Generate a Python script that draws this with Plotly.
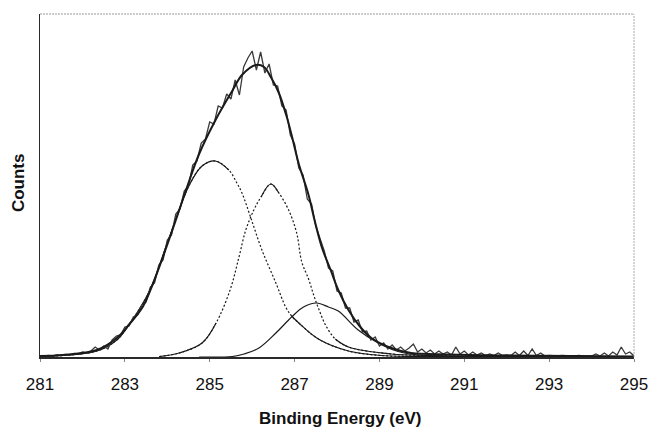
import plotly.graph_objects as go

# ---------------- data ----------------
# raw spectrum (binding energy grid, eV) and counts (arbitrary units)
raw_energy = [round(281.0 + 0.1 * i, 1) for i in range(141)]
raw_counts = [
    0.5, 1, 1.5, 1, 2, 1.5, 2.5, 2, 3.5, 3,
    5, 4, 6, 10, 7, 11, 8, 17, 21, 22,
    30, 31, 40, 42, 52, 55, 70, 74, 92, 97,
    117, 122, 143, 148, 166, 171, 192, 196, 214, 218,
    235, 233, 251, 249, 263, 258, 277, 262, 290, 299,
    306, 287, 305, 284, 293, 272, 271, 251, 247, 222,
    213, 189, 182, 158, 153, 131, 119, 106, 89, 86,
    66, 64, 49, 49, 35, 37, 25, 26, 17, 20,
    11, 14, 8, 12, 7, 10, 6, 9, 13, 5,
    8, 4, 7, 3, 6, 3, 5, 2, 10, 3,
    6, 2, 5, 2, 4, 1.5, 3, 1.5, 4, 1.5,
    2, 1.5, 5, 1.5, 6, 1.5, 8, 1.5, 4, 1,
    1.5, 1, 1, 1.5, 1, 1, 1, 1.5, 1, 1,
    1, 3, 1, 4, 1, 5, 2, 10, 3, 5,
    1,
]

# fitted envelope
fit_energy = [281.00, 281.54, 282.34, 282.81, 283.11, 283.42, 283.65, 283.93,
              284.21, 284.45, 284.75, 285.15, 285.53, 285.76, 286.09, 286.28,
              286.44, 286.63, 286.81, 286.93, 287.10, 287.33, 287.47, 287.64,
              287.85, 288.03, 288.27, 288.55, 288.81, 289.28, 289.75, 290.61,
              291.79, 295.00]
fit_counts = [1, 2, 7, 19, 33, 50, 72, 104,
              138, 168, 203, 238, 266, 282, 292, 290,
              280, 264, 241, 222, 193, 162, 137, 110,
              87, 67, 47, 30, 19, 9, 4, 2.5,
              1.5, 0.5]

# component 1 (~285.1 eV)
c1_energy = [281.00, 282.34, 282.81, 283.11, 283.58, 284.05, 284.52, 284.82,
             285.13, 285.45, 285.64, 285.76, 285.97, 286.23, 286.56, 286.79,
             286.93, 287.10, 287.56, 288.27, 289.04, 290.61, 295.00]
c1_counts = [0.5, 6, 17, 33, 66, 120, 172, 191,
             196, 187, 174, 164, 139, 107, 74, 50,
             41, 34, 18, 6, 1.5, 0.4, 0]

# component 2 (~286.4 eV)
c2_energy = [283.81, 284.28, 284.82, 285.15, 285.48, 285.69, 285.85, 286.04,
             286.21, 286.44, 286.63, 286.86, 287.05, 287.17, 287.33, 287.45,
             287.57, 287.73, 287.96, 288.27, 289.28, 290.14, 291.79, 295.00]
c2_counts = [0.5, 4, 14, 34, 67, 100, 127, 147,
             160, 173, 164, 147, 124, 95, 78, 62,
             48, 32, 18, 10, 3, 1.5, 0.3, 0]

# component 3 (~287.5 eV)
c3_energy = [284.75, 285.53, 285.81, 286.16, 286.56, 286.93, 287.21, 287.52,
             287.80, 288.03, 288.50, 288.97, 289.44, 289.91, 290.61, 291.79,
             295.00]
c3_counts = [0, 0.5, 3, 9, 24, 40, 50, 54,
             50, 46, 27, 14, 5.5, 2, 1, 0.3, 0]

x_ticks = [281, 283, 285, 287, 289, 291, 293, 295]

# ---------------- figure ----------------
INK = "#1a1a1a"
fig = go.Figure()


def masked(vals, keep):
    return [v if k else None for v, k in zip(vals, keep)]


def add_component(xs, ys, solid_top, solid_left, solid_right):
    peak = ys.index(max(ys))
    # dotted full curve
    fig.add_trace(go.Scatter(x=xs, y=ys, mode="lines",
                             line=dict(color=INK, width=1.2, dash="2px,2px", shape="spline"),
                             hoverinfo="skip", showlegend=False))
    keep = []
    for i, v in enumerate(ys):
        k = v >= solid_top
        if i < peak and v <= solid_left:
            k = True
        if i > peak and v <= solid_right:
            k = True
        keep.append(k)
    fig.add_trace(go.Scatter(x=xs, y=masked(ys, keep), mode="lines", connectgaps=False,
                             line=dict(color=INK, width=1.2, shape="spline"),
                             hoverinfo="skip", showlegend=False))


add_component(c1_energy, c1_counts, 185, 400, 41)
add_component(c2_energy, c2_counts, 160, 34, 18)
fig.add_trace(go.Scatter(x=c3_energy, y=c3_counts, mode="lines",
                         line=dict(color=INK, width=1.2, shape="spline"),
                         hoverinfo="skip", showlegend=False))

fig.add_trace(go.Scatter(x=raw_energy, y=raw_counts, mode="lines",
                         line=dict(color="#3a3a3a", width=1.3),
                         hoverinfo="skip", showlegend=False))
fig.add_trace(go.Scatter(x=fit_energy, y=fit_counts, mode="lines",
                         line=dict(color=INK, width=2, shape="spline"),
                         hoverinfo="skip", showlegend=False))

FONT = "Liberation Sans, Arial, sans-serif"
fig.update_layout(
    width=649, height=429,
    margin=dict(l=40, r=15, t=14, b=72),
    paper_bgcolor="white", plot_bgcolor="white",
    showlegend=False,
    xaxis=dict(range=[281, 295], tickvals=x_ticks, ticktext=[str(t) for t in x_ticks],
               ticks="outside", ticklen=3, tickcolor="#888", tickwidth=1,
               showline=True, linecolor="#2a2a2a", linewidth=1.5,
               showgrid=False, zeroline=False, ticklabelstandoff=8,
               ticklabeloverflow="allow", automargin=False,
               tickfont=dict(family=FONT, size=17, color="#111")),
    yaxis=dict(range=[0, 343], showticklabels=False, ticks="",
               showline=True, linecolor="#2a2a2a", linewidth=1.2,
               showgrid=False, zeroline=False, automargin=False),
    shapes=[
        dict(type="line", xref="paper", yref="paper", x0=0, x1=1, y0=1, y1=1,
             line=dict(color="#999", width=1, dash="2px,1px")),
        dict(type="line", xref="paper", yref="paper", x0=1, x1=1, y0=0, y1=1,
             line=dict(color="#aaa", width=1, dash="2px,1px")),
    ],
    annotations=[
        dict(text="<b>Binding Energy (eV)</b>", xref="paper", yref="paper",
             x=0.505, y=0, xanchor="center", yanchor="middle", yshift=-61,
             showarrow=False, font=dict(family=FONT, size=17, color="#111")),
        dict(text="<b>Counts</b>", xref="paper", yref="paper",
             x=-0.037, y=0.507, xanchor="center", yanchor="middle", textangle=-90,
             showarrow=False, font=dict(family=FONT, size=17, color="#111")),
    ],
)

fig.write_html("out.html")
